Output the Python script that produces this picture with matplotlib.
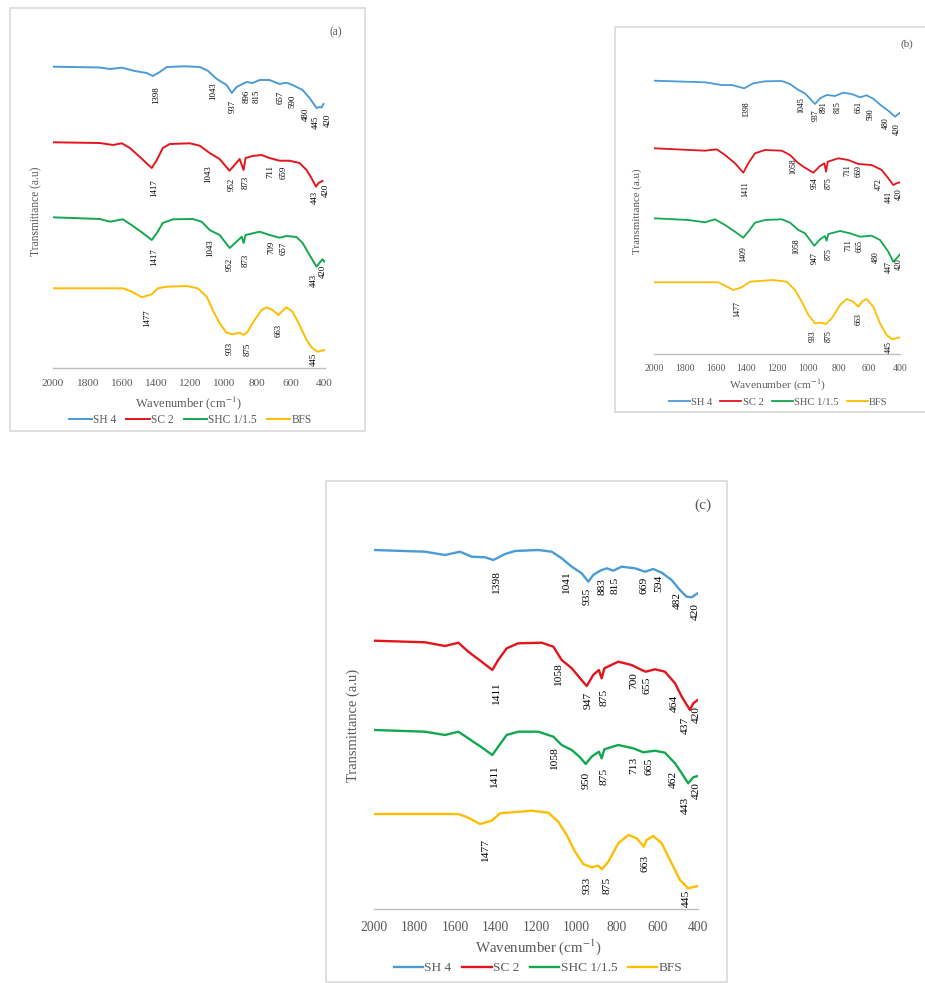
import matplotlib.pyplot as plt
from matplotlib.patches import Rectangle

plt.rcParams['font.family'] = ['Liberation Serif', 'DejaVu Serif']
plt.rcParams['mathtext.fontset'] = 'stix'

SERIES = ['SH 4', 'SC 2', 'SHC 1/1.5', 'BFS']
COLORS = ['#4A9BD6', '#E3141B', '#12A84E', '#FFBD00']
TICKS = [2000, 1800, 1600, 1400, 1200, 1000, 800, 600, 400]

# ---- panel (a): wavenumber (cm-1) and transmittance (a.u.) ----
A_SH4_WN = [2000, 1724, 1665, 1594, 1518, 1447, 1412, 1371, 1329, 1224, 1135,
            1088, 1035, 977, 947, 918, 859, 824, 782, 724, 665, 624, 588,
            529, 488, 447, 429, 418, 406]
A_SH4_T = [301.3, 300.5, 299, 300.3, 297, 295, 292, 296, 301, 301.7, 301,
           297.3, 289, 283, 275, 281, 286, 285, 288, 288, 284, 285.3, 283,
           278, 270, 260, 261, 260.5, 264]
A_SC2_WN = [2000, 1724, 1647, 1594, 1547, 1488, 1418, 1388, 1353, 1312, 1194,
            1135, 1077, 1018, 960, 930, 900, 877, 865, 824, 771, 724, 665,
            606, 547, 506, 477, 450, 435, 412]
A_SC2_T = [225.7, 225, 223, 224.7, 220, 211, 200, 208, 220, 224, 224.7,
           222.3, 215, 209, 197.3, 203, 209, 198, 210, 212, 213, 210, 207.3,
           207.3, 205, 198, 190, 181.3, 185, 187]
A_SHC_WN = [2000, 1724, 1665, 1588, 1529, 1471, 1418, 1388, 1353, 1294, 1176,
            1124, 1077, 1018, 959, 918, 888, 877, 865, 782, 724, 665, 624,
            565, 529, 488, 447, 429, 412, 400]
A_SHC_T = [150.7, 149, 146.3, 148.7, 142, 135, 128, 135, 145, 148.7, 149,
           146.3, 138, 133, 120, 126.3, 131.3, 125, 133, 136.3, 133, 130.3,
           132, 131, 125, 113, 101.3, 105.3, 108.7, 106.3]
A_BFS_WN = [2000, 1588, 1535, 1477, 1418, 1382, 1329, 1212, 1147, 1094, 1059,
            1018, 977, 941, 900, 877, 853, 812, 771, 741, 706, 671, 653, 624,
            588, 547, 506, 471, 441, 400]
A_BFS_T = [79.7, 79.7, 76.3, 70.7, 73.7, 79.7, 81.3, 82, 79.7, 71.3, 58,
           44.7, 35.3, 33.7, 35.3, 33, 36.3, 48, 58, 60.7, 58, 53, 56.3, 60.7,
           56.3, 43, 28, 19.7, 16.3, 18]
A_SH4_LBL = [('1398', 1394, 273), ('1043', 1059, 277), ('937', 941, 262),
             ('896', 859, 272), ('815', 800, 272), ('657', 659, 271),
             ('590', 588, 267), ('480', 512, 254), ('445', 453, 246),
             ('420', 382, 248)]
A_SC2_LBL = [('1417', 1406, 180), ('1043', 1088, 194), ('952', 947, 184),
             ('873', 865, 186), ('711', 718, 197), ('659', 641, 196),
             ('443', 459, 171), ('420', 394, 178)]
A_SHC_LBL = [('1417', 1406, 111), ('1043', 1071, 120), ('952', 959, 104),
             ('873', 865, 108), ('709', 712, 121), ('657', 641, 120),
             ('443', 465, 88), ('420', 412, 97)]
A_BFS_LBL = [('1477', 1447, 50), ('933', 959, 20), ('875', 853, 19),
             ('663', 671, 38), ('445', 465, 9)]

# ---- panel (b) ----
B_SH4_WN = [2000, 1668, 1560, 1495, 1413, 1354, 1278, 1169, 1115, 1061, 1018,
            953, 920, 877, 823, 769, 714, 660, 617, 574, 519, 476, 432, 411,
            400]
B_SH4_T = [273.3, 271.7, 269, 269, 265.7, 270.7, 272.7, 273, 270, 264, 260.7,
           250, 255.7, 259, 258, 261.3, 260, 256.7, 258.7, 255.3, 248, 243.3,
           237.3, 240, 241.3]
B_SC2_WN = [2000, 1668, 1592, 1538, 1473, 1419, 1387, 1343, 1278, 1169, 1115,
            1072, 1029, 964, 920, 892, 881, 870, 801, 736, 671, 584, 519, 476,
            444, 422, 400]
B_SC2_T = [205.7, 203.3, 204.7, 199, 190.7, 181.3, 190.7, 200.7, 204, 203.3,
           199, 192.3, 187.3, 181.3, 188, 190.7, 182.3, 192.3, 195.7, 194, 190,
           189, 184, 175.7, 169, 170.7, 171.7]
B_SHC_WN = [2000, 1777, 1668, 1603, 1538, 1473, 1419, 1387, 1343, 1278, 1169,
            1115, 1061, 1018, 957, 920, 888, 877, 866, 790, 725, 660, 584, 530,
            476, 444, 422, 400]
B_SHC_T = [135.7, 134, 131.7, 134.7, 129, 122.3, 116.3, 122.3, 131.3, 134,
           134.7, 131.3, 124, 120.7, 108.3, 114.7, 118, 113.3, 120, 123, 120.7,
           117.3, 118.3, 114, 102.3, 92.3, 95.7, 99.7]
B_BFS_WN = [2000, 1582, 1538, 1484, 1430, 1376, 1224, 1137, 1083, 1039, 996,
            953, 909, 883, 844, 790, 747, 704, 671, 649, 617, 574, 530, 487,
            450, 400]
B_BFS_T = [71.7, 71.7, 68.3, 64, 66.7, 72.3, 74, 72.3, 64, 52.3, 39, 30.7,
           31.3, 30, 35.7, 49, 55, 52.3, 47.3, 52.3, 55, 47.3, 30.7, 19, 14.7,
           16.7]
B_SH4_LBL = [('1398', 1397, 245), ('1045', 1044, 248.7), ('937', 948, 239),
             ('891', 894, 247.3), ('815', 808, 246.7), ('661', 667, 247.3),
             ('590', 591, 239.7), ('480', 493, 230.7), ('420', 420, 225)]
B_SC2_LBL = [('1411', 1408, 165), ('1058', 1094, 188.3), ('954', 953, 170.7),
             ('875', 866, 171.3), ('711', 740, 184), ('669', 667, 183.3),
             ('472', 537, 170), ('441', 476, 157.3), ('420', 407, 160)]
B_SHC_LBL = [('1409', 1419, 100), ('1058', 1072, 108.3), ('947', 957, 95.7),
             ('875', 866, 100), ('711', 736, 109), ('665', 664, 108.3),
             ('480', 556, 97.3), ('447', 472, 87.3), ('420', 405, 90)]
B_BFS_LBL = [('1477', 1456, 45), ('933', 970, 18.3), ('875', 862, 18.3),
             ('663', 671, 35), ('445', 472, 6.7)]

# ---- panel (c) ----
C_SH4_WN = [2000, 1749, 1650, 1576, 1518, 1452, 1411, 1353, 1304, 1189, 1122,
            1073, 1023, 974, 941, 917, 883, 850, 818, 776, 710, 661, 620, 578,
            529, 488, 455, 430, 413, 400]
C_SH4_T = [359, 357.3, 354, 357.3, 352.3, 351.7, 349, 355, 358, 359, 357.3,
           350.7, 342.3, 335.7, 327.3, 334, 338.3, 340.7, 338.3, 342.3, 340.7,
           337.3, 340, 336.3, 329, 319, 312.3, 311.7, 314, 315.7]
C_SC2_WN = [2000, 1749, 1650, 1584, 1535, 1469, 1416, 1387, 1345, 1288, 1172,
            1114, 1073, 1023, 982, 949, 917, 889, 875, 862, 793, 727, 677, 657,
            611, 562, 512, 479, 438, 422, 400]
C_SC2_T = [268.3, 266.7, 263, 266.3, 257.3, 247.3, 239, 249, 260.7, 265.7,
           266.3, 262.3, 249, 240.7, 230.7, 223, 234, 239, 230.7, 240.7, 247.3,
           244, 239, 237.3, 239.7, 237.3, 225.7, 212.3, 199, 205.7, 209]
C_SHC_WN = [2000, 1749, 1650, 1584, 1535, 1469, 1416, 1387, 1345, 1288, 1189,
            1114, 1073, 1023, 982, 954, 925, 889, 875, 862, 793, 719, 669, 611,
            562, 512, 479, 447, 422, 400]
C_SHC_T = [179, 177.3, 174, 177.3, 170.7, 161.7, 154, 162.3, 174, 177.3, 177.3,
           172.3, 164, 159, 151.7, 145, 152.3, 157.3, 150.7, 159.7, 164, 160.7,
           156.7, 158.3, 156.3, 145.7, 135.7, 125.7, 131.7, 133]
C_BFS_WN = [2000, 1584, 1535, 1477, 1419, 1378, 1221, 1139, 1090, 1048, 1007,
            966, 925, 892, 875, 842, 793, 743, 702, 666, 653, 620, 578, 529,
            488, 447, 400]
C_BFS_T = [95, 95, 91.3, 85, 88.3, 95.7, 98.3, 96.3, 87.3, 74, 57.3, 45, 41.7,
           43.3, 39.7, 47.3, 65.7, 74, 70.7, 62.3, 69, 73, 65.7, 45.7, 29, 20.7,
           23]
C_SH4_LBL = [('1398', 1394, 326.7), ('1041', 1048, 326.7), ('935', 946, 312.3),
             ('883', 875, 322.3), ('815', 809, 324), ('669', 666, 324),
             ('594', 595, 325.7), ('482', 501, 309), ('420', 413, 297.3)]
C_SC2_LBL = [('1411', 1394, 215.7), ('1058', 1090, 234), ('947', 941, 208.3),
             ('875', 862, 211.7), ('700', 714, 228.3), ('655', 649, 223.3),
             ('464', 516, 205.7), ('437', 463, 184), ('420', 405, 194)]
C_SHC_LBL = [('1411', 1403, 132.3), ('1058', 1106, 150.7), ('950', 954, 128.3),
             ('875', 862, 132.3), ('713', 714, 144), ('665', 640, 142.3),
             ('462', 521, 130), ('443', 463, 104), ('420', 409, 118.3)]
C_BFS_LBL = [('1477', 1449, 59), ('933', 949, 24), ('875', 850, 24),
             ('663', 661, 45.7), ('445', 455, 10.7)]

W, H = 925, 983
GRAY = '#595959'


def fx(px):
    return px / W


def fy(py):
    return 1 - py / H


def draw_panel(fig, curves, labels, geo):
    x0, x1, base, top = geo['axes']
    ax = fig.add_axes([fx(x0), fy(base), (x1 - x0) / W, (base - top) / H])
    ax.set_xlim(2000, 400)
    ax.set_ylim(0, base - top)
    for (wn, t), name, color in zip(curves, SERIES, COLORS):
        ax.plot(wn, t, color=color, lw=geo['lw'], label=name,
                solid_joinstyle='round')
    for lbl in labels:
        for text, xw, yv in lbl:
            ax.text(xw, yv, text, rotation=90, ha='center', va='center',
                    fontsize=geo['afs'], color='black')
    for s in ['top', 'right', 'left']:
        ax.spines[s].set_visible(False)
    ax.spines['bottom'].set_color('#BFBFBF')
    ax.spines['bottom'].set_linewidth(1.0)
    ax.set_yticks([])
    ax.set_xticks(TICKS)
    ax.set_xticklabels([str(t) for t in TICKS])
    ax.tick_params(axis='x', length=0, pad=geo['pad'],
                   labelsize=geo['tfs'], labelcolor=GRAY)
    ax.patch.set_alpha(0)

    lx, ly = geo['xlabel']
    fig.text(fx(lx), fy(ly), 'Wavenumber (cm$^{-1}$)', ha='center',
             va='center', fontsize=geo['xfs'], color=GRAY)
    yx, yy = geo['ylabel']
    fig.text(fx(yx), fy(yy), 'Transmittance (a.u)', rotation=90,
             ha='center', va='center', fontsize=geo['yfs'], color=GRAY)
    tx, ty = geo['tag_pos']
    fig.text(fx(tx), fy(ty), geo['tag'], ha='center', va='center',
             fontsize=geo['tagfs'], color=GRAY)
    gx, gy = geo['legend']
    fig.legend(*ax.get_legend_handles_labels(), loc='center',
               bbox_to_anchor=(fx(gx), fy(gy)), ncol=4, frameon=False,
               fontsize=geo['lfs'], handlelength=geo['hl'],
               handletextpad=0.1, columnspacing=geo['cs'], borderpad=0,
               labelcolor=GRAY)
    bx0, by0, bx1, by1 = geo['frame']
    fig.add_artist(Rectangle((fx(bx0), fy(by1)), (bx1 - bx0) / W,
                             (by1 - by0) / H, transform=fig.transFigure,
                             fill=False, ec='#D9D9D9', lw=1.2))


def main():
    fig = plt.figure(figsize=(W / 100, H / 100), dpi=100)

    draw_panel(fig,
               [(A_SH4_WN, A_SH4_T), (A_SC2_WN, A_SC2_T),
                (A_SHC_WN, A_SHC_T), (A_BFS_WN, A_BFS_T)],
               [A_SH4_LBL, A_SC2_LBL, A_SHC_LBL, A_BFS_LBL],
               dict(axes=(53, 324.5, 368, 40), lw=1.4, afs=6.3, tfs=8.2,
                    pad=8, xlabel=(188, 403), xfs=9, ylabel=(36, 211),
                    yfs=8.3, tag='(a)', tag_pos=(336, 32), tagfs=8.3,
                    legend=(190, 420), lfs=8.3, hl=2.0, cs=0.9,
                    frame=(10, 8, 365, 431)))

    draw_panel(fig,
               [(B_SH4_WN, B_SH4_T), (B_SC2_WN, B_SC2_T),
                (B_SHC_WN, B_SHC_T), (B_BFS_WN, B_BFS_T)],
               [B_SH4_LBL, B_SC2_LBL, B_SHC_LBL, B_BFS_LBL],
               dict(axes=(654, 900, 354, 54), lw=1.3, afs=5.7, tfs=7,
                    pad=7, xlabel=(778, 385), xfs=8.2, ylabel=(637, 211),
                    yfs=7.8, tag='(b)', tag_pos=(907, 44), tagfs=8,
                    legend=(778, 402), lfs=7.6, hl=2.0, cs=0.8,
                    frame=(615, 27, 926, 412)))

    draw_panel(fig,
               [(C_SH4_WN, C_SH4_T), (C_SC2_WN, C_SC2_T),
                (C_SHC_WN, C_SHC_T), (C_BFS_WN, C_BFS_T)],
               [C_SH4_LBL, C_SC2_LBL, C_SHC_LBL, C_BFS_LBL],
               dict(axes=(374.3, 697.7, 909, 520), lw=1.7, afs=8.2, tfs=9.8,
                    pad=8.5, xlabel=(538, 947), xfs=10.7, ylabel=(353, 725),
                    yfs=10.5, tag='(c)', tag_pos=(703, 505), tagfs=11,
                    legend=(538, 968), lfs=9.6, hl=2.2, cs=0.8,
                    frame=(326, 481, 727, 982)))

    fig.savefig('out.png', dpi=100)


if __name__ == '__main__':
    main()
